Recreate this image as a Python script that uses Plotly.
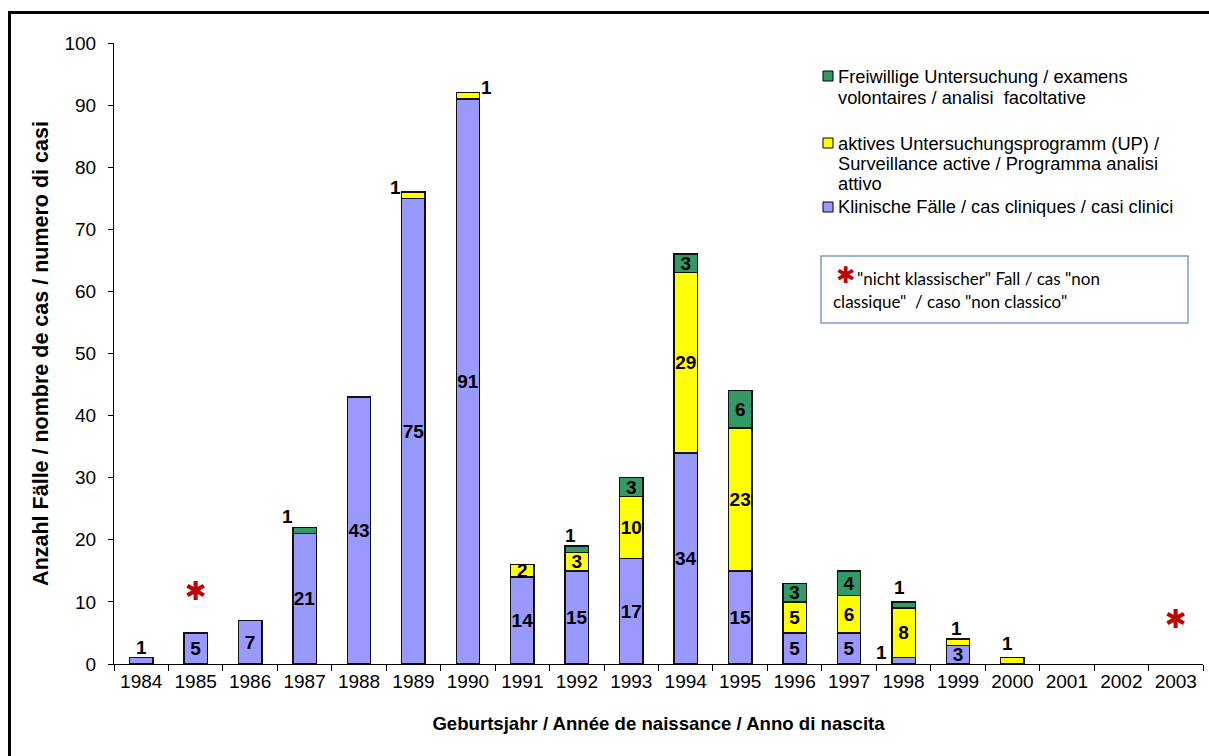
import plotly.graph_objects as go

# Birth years and case counts per detection route
years = [str(y) for y in range(1984, 2004)]
clinical = [1, 5, 7, 21, 43, 75, 91, 14, 15, 17, 34, 15, 5, 5, 1, 3, 0, 0, 0, 0]
active_up = [None, None, None, None, None, 1, 1, 2, 3, 10, 29, 23, 5, 6, 8, 1, 1, None, None, None]
voluntary = [None, None, None, 1, None, None, None, None, 1, 3, 3, 6, 3, 4, 1, None, None, None, None, None]

# "non classical" case markers (year, height on the count axis)
star_years = ["1985", "2003"]
star_heights = [11.35, 6.9]

name_vol = ["Freiwillige Untersuchung / examens", "volontaires / analisi  facoltative"]
name_up = ["aktives Untersuchungsprogramm (UP) /", "Surveillance active / Programma analisi", "attivo"]
name_cl = ["Klinische Fälle / cas cliniques / casi clinici"]
note_lines = ["\"nicht klassischer\" Fall / cas \"non", "classique\"  / caso \"non classico\""]

C_CL = "#9999FF"
C_UP = "#FFFF00"
C_VOL = "#339966"

W, H = 1209, 756
L, R, T, B = 114, 1203, 43, 664


def px(x):
    return (x - L) / (R - L)


def py(y):
    return (B - y) / (B - T)


# Segments labelled outside the bar: (series, year, x offset, y offset from segment top, anchor at mid?)
outside = [
    ("cl", "1984", 0, 10, False),
    ("vol", "1987", -17, 11, False),
    ("up", "1989", -18, 5, False),
    ("up", "1990", 19, 5, False),
    ("vol", "1992", -6, 11, False),
    ("cl", "1998", -22, 8, True),
    ("vol", "1998", -4, 14, False),
    ("up", "1999", -1, 11, False),
    ("up", "2000", -5, 14, False),
]
series = {"cl": clinical, "up": active_up, "vol": voluntary}
order = ["cl", "up", "vol"]
outside_keys = {(s, y) for s, y, *_ in outside}


def inside_text(key):
    vals = series[key]
    return [("" if (not v or (key, yr) in outside_keys) else str(v))
            for yr, v in zip(years, vals)]


label_font = dict(family="Arial, Liberation Sans", size=19, color="black", weight="bold")

fig = go.Figure()
for key, name, color in [("cl", name_cl, C_CL), ("up", name_up, C_UP), ("vol", name_vol, C_VOL)]:
    fig.add_trace(go.Bar(
        x=years, y=[v if v else None for v in series[key]], name=" ".join(name),
        marker_color=color, marker_line=dict(color="#111111", width=1.4), width=0.43,
        text=inside_text(key), textposition="inside", insidetextanchor="middle",
        textangle=0, textfont=label_font, showlegend=False, cliponaxis=False,
    ))

fig.add_trace(go.Scatter(
    x=star_years, y=star_heights, mode="text", text=["✱"] * len(star_years),
    textfont=dict(family="DejaVu Sans", size=26, color="#C00000"),
    showlegend=False, cliponaxis=False,
))

annotations = []
for key, yr, dx, dy, mid in outside:
    i = years.index(yr)
    below = sum((series[k][i] or 0) for k in order[:order.index(key)])
    v = series[key][i]
    yv = below + v / 2 if mid else below + v
    annotations.append(dict(
        x=i, y=yv, xref="x", yref="y", text=str(v), showarrow=False,
        xshift=dx, yshift=dy, yanchor="middle", font=label_font,
    ))

# Legend drawn as swatches plus text lines
shapes = []
legend_font = dict(family="Arial, Liberation Sans", size=18.3, color="black")
for color, lines, ys in [(C_VOL, name_vol, [76, 97]),
                         (C_UP, name_up, [143, 163, 183]),
                         (C_CL, name_cl, [207])]:
    shapes.append(dict(type="rect", xref="paper", yref="paper",
                       x0=px(823), x1=px(833), y0=py(ys[0] + 5), y1=py(ys[0] - 5),
                       fillcolor=color, line=dict(color="black", width=1)))
    for text, yy in zip(lines, ys):
        annotations.append(dict(x=px(836), y=py(yy), xref="paper", yref="paper",
                                xanchor="left", yanchor="middle", text=text,
                                showarrow=False, font=legend_font))

# Note box
shapes.append(dict(type="rect", xref="paper", yref="paper",
                   x0=px(821), x1=px(1188), y0=py(323), y1=py(256),
                   line=dict(color="#7F9BCB", width=1.5), fillcolor="rgba(0,0,0,0)"))
annotations.append(dict(x=px(845), y=py(275), xref="paper", yref="paper", text="✱",
                        showarrow=False, xanchor="center", yanchor="middle",
                        font=dict(family="DejaVu Sans", size=23, color="#C00000")))
note_font = dict(family="Lato", size=17, color="black")
annotations.append(dict(x=px(855), y=py(278), xref="paper", yref="paper", text=note_lines[0],
                        showarrow=False, xanchor="left", yanchor="middle", font=note_font))
annotations.append(dict(x=px(831), y=py(301), xref="paper", yref="paper", text=note_lines[1],
                        showarrow=False, xanchor="left", yanchor="middle", font=note_font))

# Outer frame
shapes.append(dict(type="rect", xref="paper", yref="paper",
                   x0=px(9.5), x1=px(1230), y0=py(780), y1=py(12.5),
                   line=dict(color="black", width=3), fillcolor="rgba(0,0,0,0)"))

fig.update_layout(
    width=W, height=H, barmode="stack",
    margin=dict(l=L, r=W - R, t=T, b=H - B),
    paper_bgcolor="white", plot_bgcolor="white",
    font=dict(family="Arial, Liberation Sans", color="black"),
    uniformtext=dict(minsize=19, mode="show"),
    shapes=shapes, annotations=annotations,
    xaxis=dict(
        type="category", categoryorder="array", categoryarray=years,
        range=[-0.5, len(years) - 0.5], autorange=False,
        showline=True, linecolor="black", linewidth=1,
        ticks="outside", tickson="boundaries", ticklen=6, tickcolor="black",
        tickfont=dict(size=19), tickangle=0, showgrid=False,
        title=dict(text="<b>Geburtsjahr / Année de naissance / Anno di nascita</b>",
                   font=dict(size=18.6), standoff=26),
    ),
    yaxis=dict(
        range=[0, 100], autorange=False, dtick=10, showline=True, linecolor="black", linewidth=1,
        ticks="outside", ticklen=5, tickcolor="black", tickfont=dict(size=19),
        showgrid=False, zeroline=False, ticklabelstandoff=8,
        title=dict(text="<b>Anzahl Fälle / nombre de cas / numero di casi</b>",
                   font=dict(size=21.5), standoff=9),
    ),
)

fig.write_html("out.html")
